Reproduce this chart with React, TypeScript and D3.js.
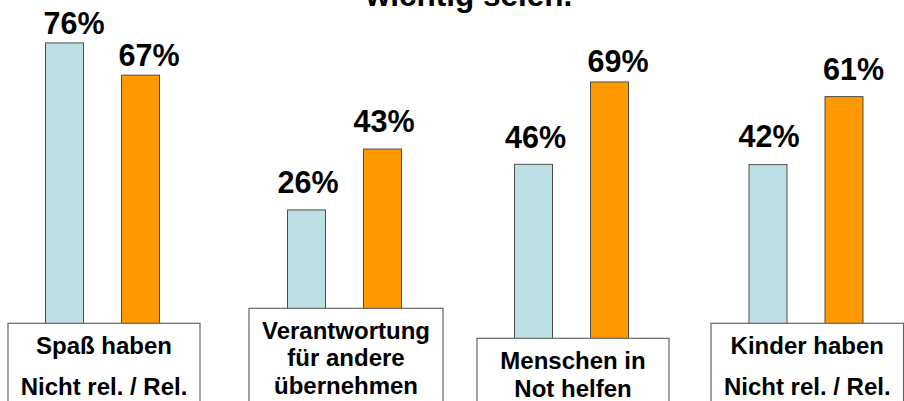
import React from "react";
import * as d3 from "d3";

// ---- data ----
const categories = [
  ["Spaß haben", "Nicht rel. / Rel."],
  ["Verantwortung", "für andere", "übernehmen"],
  ["Menschen in", "Not helfen"],
  ["Kinder haben", "Nicht rel. / Rel."],
];
const seriesNames = ["Nicht religiös", "Religiös"];
const nichtReligioes = [76, 26, 46, 42];
const religioes = [67, 43, 69, 61];
const titleText = "wichtig seien.";

// ---- layout (each panel is a small chart of its own) ----
const panelBarLeft = [45, 287, 514, 748.5];
const panelBaseline = [315, 303, 329, 315];
const panelBox = [
  { x0: 8, x1: 200, top: 323.3 },
  { x0: 249, x1: 443, top: 308.3 },
  { x0: 477, x1: 669, top: 338.3 },
  { x0: 711, x1: 903.5, top: 323.3 },
];
const panelLineGap = [41, 27.5, 28, 41];
// label nudges per panel & series: [dx, gap above bar]
const labelNudge = [
  [[10, 9.3], [9, 9.4]],
  [[2, 16.6], [2, 16.6]],
  [[2.5, 16.7], [9, 10]],
  [[1.5, 17.3], [10, 16.7]],
];

const W = 904;
const H = 401;
const PX_PER_PCT = 3.58;
const BLUE = "#BCE0E3";
const ORANGE = "#FF9900";
const FONT = "'Liberation Sans', Arial, sans-serif";

export default function App() {
  const colors = d3.scaleOrdinal<string, string>().domain(seriesNames).range([BLUE, ORANGE]);
  const values = [nichtReligioes, religioes];

  return (
    <svg
      width={W}
      height={H}
      viewBox={`0 0 ${W} ${H}`}
      style={{ position: "absolute", left: 0, top: 0, background: "#fff" }}
      fontFamily={FONT}
    >
      <rect x={0} y={0} width={W} height={H} fill="#fff" />
      <text x={469} y={6} textAnchor="middle" fontSize={31.5} fontWeight="bold" fill="#000">
        {titleText}
      </text>
      {categories.map((lines, i) => {
        const left = panelBarLeft[i];
        const base = panelBaseline[i];
        const y = d3.scaleLinear().domain([0, 100]).range([base, base - 100 * PX_PER_PCT]);
        const x = d3
          .scaleBand<string>()
          .domain(seriesNames)
          .range([left - 38, left + 152])
          .paddingInner(0.5)
          .paddingOuter(0.5);
        const box = panelBox[i];
        return (
          <g key={i}>
            {seriesNames.map((s, si) => {
              const v = values[si][i];
              const bx = x(s)!;
              const bw = x.bandwidth();
              const [dx, gap] = labelNudge[i][si];
              return (
                <g key={s}>
                  <rect
                    x={bx + 0.5}
                    y={y(v)}
                    width={bw}
                    height={y(0) - y(v) + 40}
                    fill={colors(s)}
                    stroke="#4d4d4d"
                    strokeWidth={1}
                  />
                  <text
                    x={bx + bw / 2 + dx}
                    y={y(v) - gap}
                    textAnchor="middle"
                    fontSize={30.5}
                    fontWeight="bold"
                    fill="#000"
                  >
                    {`${v}%`}
                  </text>
                </g>
              );
            })}
            <rect
              x={box.x0}
              y={box.top}
              width={box.x1 - box.x0}
              height={H - box.top + 10}
              fill="#fff"
              stroke="#666"
              strokeWidth={1.2}
            />
            {lines.map((ln, li) => (
              <text
                key={li}
                x={(box.x0 + box.x1) / 2}
                y={box.top + 30.3 + li * panelLineGap[i]}
                textAnchor="middle"
                fontSize={24}
                fontWeight="bold"
                fill="#000"
              >
                {ln}
              </text>
            ))}
          </g>
        );
      })}
    </svg>
  );
}
